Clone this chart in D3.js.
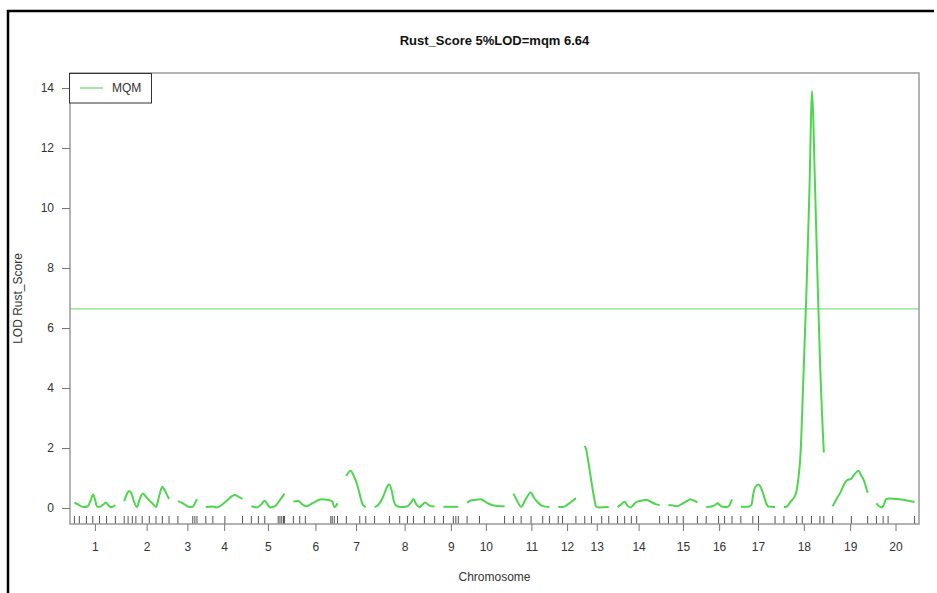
<!DOCTYPE html>
<html>
<head>
<meta charset="utf-8">
<script src="https://cdn.jsdelivr.net/npm/d3@7"></script>
<style>
  body { margin: 0; background: #fff; }
  svg { font-family: "Liberation Sans", Arial, sans-serif; }
</style>
</head>
<body>
<script>
// chromosome names and lengths (cM)
var chromosomes = ["1","2","3","4","5","6","7","8","9","10","11","12","13","14","15","16","17","18","19","20"];
var chrLengths = [116,127,54,104,94,125,55,170,42,106,102,50,68,119,82,73,97,113,99,108];
var gapCM = 25;

// marker positions per chromosome (cM) -> rug ticks
var markers = [
    [0,14,34,52,71,91,116],
    [0,11,23,33,51,71,90,108,127],
    [0,42,48,54],
    [0,20,54,104],
    [0,20,38,76,81,86,91,94],
    [0,18,34,106,110,116,125],
    [0,38,55],
    [0,42,71,93,110,141,170],
    [0,28,35,42],
    [0,35,106],
    [0,22,50,83,102],
    [0,12,50],
    [0,19,48,68],
    [0,20,39,54,119],
    [0,24,42,82],
    [0,35,52,73],
    [0,34,50,97],
    [0,36,52,78,102,113],
    [0,53,99],
    [0,19,33,108]
];

// MQM LOD profile per chromosome: [position cM, LOD]
var lodCurves = [
    [[0,0.18],[10,0.12],[25,0.03],[38,0.06],[46,0.25],[53,0.45],[58,0.3],[64,0.05],[72,0.04],[82,0.12],[89,0.18],[96,0.1],[102,0.03],[110,0.05],[116,0.1]],
    [[0,0.23],[7,0.45],[14,0.57],[20,0.5],[28,0.2],[36,0.03],[44,0.3],[53,0.48],[60,0.4],[69,0.27],[80,0.15],[90,0.03],[100,0.45],[108,0.71],[114,0.6],[127,0.3]],
    [[0,0.23],[15,0.15],[32,0.03],[42,0.04],[48,0.15],[54,0.3]],
    [[0,0.03],[20,0.05],[31,0.02],[45,0.1],[60,0.25],[75,0.4],[82,0.43],[92,0.38],[104,0.3]],
    [[0,0.06],[15,0.02],[28,0.12],[38,0.24],[46,0.12],[53,0.02],[67,0.06],[80,0.25],[94,0.48]],
    [[0,0.22],[14,0.23],[25,0.12],[37,0.06],[57,0.18],[79,0.29],[99,0.27],[110,0.22],[116,0.03],[125,0.16]],
    [[0,1.07],[12,1.24],[20,1.1],[30,0.8],[38,0.45],[46,0.12],[55,0.03]],
    [[0,0.03],[10,0.1],[25,0.4],[35,0.7],[41,0.79],[48,0.6],[55,0.2],[61,0.08],[75,0.03],[93,0.06],[104,0.2],[110,0.3],[118,0.12],[127,0.03],[136,0.12],[143,0.18],[155,0.08],[170,0.05]],
    [[0,0.04],[20,0.04],[42,0.04]],
    [[0,0.18],[10,0.25],[20,0.27],[30,0.28],[38,0.29],[50,0.22],[60,0.15],[70,0.1],[85,0.07],[106,0.06]],
    [[0,0.48],[10,0.25],[22,0.04],[35,0.3],[49,0.52],[58,0.35],[68,0.2],[82,0.07],[102,0.03]],
    [[0,0.03],[12,0.03],[22,0.08],[36,0.2],[50,0.33]],
    [[0,2.07],[4,1.95],[10,1.55],[18,0.95],[28,0.25],[32,0.05],[40,0.02],[68,0.03]],
    [[0,0.03],[10,0.12],[20,0.21],[28,0.08],[38,0.02],[46,0.12],[55,0.21],[70,0.25],[82,0.27],[95,0.2],[108,0.13],[119,0.1]],
    [[0,0.1],[12,0.08],[24,0.06],[40,0.15],[55,0.25],[62,0.29],[72,0.25],[82,0.19]],
    [[0,0.03],[15,0.05],[25,0.1],[32,0.16],[38,0.1],[44,0.05],[58,0.03],[63,0.05],[73,0.29]],
    [[0,0.04],[20,0.04],[30,0.1],[35,0.45],[41,0.7],[50,0.78],[56,0.7],[64,0.45],[72,0.15],[78,0.05],[97,0.03]],
    [[0,0.03],[8,0.05],[19,0.21],[33,0.45],[40,0.9],[47,1.8],[55,4.3],[64,7.3],[72,10.5],[80,13.9],[87,11.2],[96,7.3],[103,4.6],[113,1.85]],
    [[0,0.06],[11,0.3],[22,0.52],[33,0.8],[41,0.93],[52,0.97],[60,1.1],[74,1.24],[80,1.1],[88,0.93],[99,0.51]],
    [[0,0.16],[8,0.05],[16,0.02],[21,0.12],[28,0.3],[35,0.32],[54,0.3],[70,0.28],[90,0.24],[108,0.2]]
];

var yTicks = [0,2,4,6,8,10,12,14];
var threshold = 6.64;
var chartTitle = "Rust_Score 5%LOD=mqm 6.64";

var w = 937, h = 593;
var plot = { left: 70, right: 919, top: 73, bottom: 524 };

var svg = d3.select("body").append("svg")
    .attr("width", w)
    .attr("height", h);

// outer frame (top + left visible)
svg.append("path")
    .attr("d", "M8,593 L8,11 L934,11")
    .attr("fill", "none")
    .attr("stroke", "#000")
    .attr("stroke-width", 2.5);

// cumulative chromosome starts
var chrStart = [];
var acc = gapCM / 2;
chrLengths.forEach(function(L) {
    chrStart.push(acc);
    acc += L + gapCM;
});
var total = acc - gapCM / 2;

var x = d3.scaleLinear().domain([0, total]).range([plot.left, plot.right]);
var y = d3.scaleLinear().domain([-(524 - 508) / 30, (508 - 73) / 30]).range([plot.bottom, plot.top]);

// threshold line
svg.append("line")
    .attr("x1", plot.left).attr("x2", plot.right)
    .attr("y1", y(threshold)).attr("y2", y(threshold))
    .attr("stroke", "#86de86")
    .attr("stroke-width", 1.2);

// LOD curves
var line = d3.line()
    .x(function(d) { return x(d[0]); })
    .y(function(d) { return y(d[1]); })
    .curve(d3.curveMonotoneX);

lodCurves.forEach(function(curve, i) {
    var pts = curve.map(function(p) { return [chrStart[i] + p[0], p[1]]; });
    svg.append("path")
        .datum(pts)
        .attr("d", line)
        .attr("fill", "none")
        .attr("stroke", "#4fd64f")
        .attr("stroke-width", 2);
});

// rug of marker positions
var rug = [];
markers.forEach(function(m, i) {
    m.forEach(function(p) { rug.push(chrStart[i] + p); });
});
svg.selectAll(".rug")
    .data(rug)
    .enter().append("line")
    .attr("class", "rug")
    .attr("x1", function(d) { return x(d); })
    .attr("x2", function(d) { return x(d); })
    .attr("y1", plot.bottom)
    .attr("y2", plot.bottom - 8)
    .attr("stroke", "#555")
    .attr("stroke-width", 1);

// plot box
svg.append("rect")
    .attr("x", plot.left).attr("y", plot.top)
    .attr("width", plot.right - plot.left)
    .attr("height", plot.bottom - plot.top)
    .attr("fill", "none")
    .attr("stroke", "#9a9a9a")
    .attr("stroke-width", 1.5);

// y axis
var yAxis = svg.append("g")
    .attr("transform", "translate(" + plot.left + ",0)")
    .call(d3.axisLeft(y).tickValues(yTicks).tickSize(8).tickPadding(8));
yAxis.select(".domain").remove();

// x axis: chromosome midpoints
var mids = chrLengths.map(function(L, i) { return chrStart[i] + L / 2; });
var xAxis = svg.append("g")
    .attr("transform", "translate(0," + plot.bottom + ")")
    .call(d3.axisBottom(x).tickValues(mids)
        .tickFormat(function(d, i) { return chromosomes[i]; })
        .tickSize(7).tickPadding(11));
xAxis.select(".domain").remove();

svg.selectAll(".tick line").attr("stroke", "#777");
svg.selectAll(".tick text")
    .attr("fill", "#333")
    .style("font-size", "12px")
    .style("font-family", "'Liberation Sans', Arial, sans-serif");

// axis titles
svg.append("text")
    .attr("x", (plot.left + plot.right) / 2)
    .attr("y", 581)
    .attr("text-anchor", "middle")
    .attr("fill", "#333")
    .style("font-size", "12px")
    .text("Chromosome");

svg.append("text")
    .attr("transform", "translate(22," + (plot.top + plot.bottom) / 2 + ") rotate(-90)")
    .attr("text-anchor", "middle")
    .attr("fill", "#333")
    .style("font-size", "12px")
    .text("LOD Rust_Score");

// title
svg.append("text")
    .attr("x", (plot.left + plot.right) / 2)
    .attr("y", 45)
    .attr("text-anchor", "middle")
    .attr("fill", "#111")
    .style("font-size", "13px")
    .style("font-weight", "bold")
    .text(chartTitle);

// legend
var lg = svg.append("g");
lg.append("rect")
    .attr("x", 69.5).attr("y", 73.5)
    .attr("width", 82).attr("height", 29.5)
    .attr("fill", "#fff")
    .attr("stroke", "#333")
    .attr("stroke-width", 1);
lg.append("line")
    .attr("x1", 80).attr("x2", 103)
    .attr("y1", 88).attr("y2", 88)
    .attr("stroke", "#86de86")
    .attr("stroke-width", 1.5);
lg.append("text")
    .attr("x", 112).attr("y", 92)
    .attr("fill", "#333")
    .style("font-size", "12px")
    .text("MQM");
</script>
</body>
</html>
